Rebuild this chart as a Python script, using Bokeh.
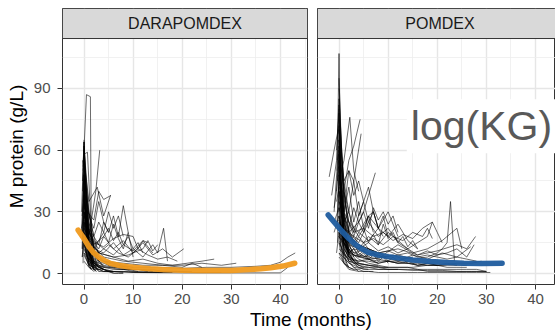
from bokeh.plotting import figure
from bokeh.layouts import row, column
from bokeh.models import Range1d, FixedTicker, BoxAnnotation, Label, Div
from bokeh.embed import file_html
from bokeh.resources import INLINE

# ---------------- data ----------------
PANELS = ["DARAPOMDEX", "POMDEX"]
X_TICKS = [0, 10, 20, 30, 40]
X_MINOR = [5, 15, 25, 35, 45]
Y_TICKS = [0, 30, 60, 90]
Y_MINOR = [15, 45, 75, 105]

DARA_TIME = [
    [-0.2, 0.5, 1.3, 1.5, 2.5],
    [-0.5, 0, 0.8, 1.8, 2.8],
    [-0.3, 0, 1, 2, 3, 4],
    [0, 0.7, 1.5, 2.5],
    [0, 1, 2.4, 3.2],
    [-0.4, 0, 1, 2.7, 4, 5.4],
    [0, 1, 2, 3, 4, 5],
    [-0.2, 0, 1, 2, 3, 4, 5, 6, 7, 8, 9],
    [0, 1, 2, 3, 4, 5, 6, 7, 8, 9, 10, 11, 12],
    [0, 2, 4, 6, 8, 10, 12, 14, 15, 16.2, 17],
    [0, 2, 4, 6, 8, 10, 12, 14, 16, 18, 20.3],
    [0, 3, 6, 9, 12, 15, 18, 21, 24, 26.5],
    [0, 4, 8, 12, 16, 20, 24, 28, 31],
    [0, 5, 10, 15, 20, 25, 30, 35, 38, 40, 41.5, 43],
    [0, 3, 10, 20, 30, 40, 41.5],
    [-0.3, 0, 1, 2],
    [0, 0.5, 1.5, 3],
    [0, 1, 2, 3, 4, 5, 6],
    [0, 1, 2, 4, 6, 8],
    [0, 1, 3, 5, 7, 9, 11, 13],
    [0, 1, 2, 3],
    [-0.5, 0, 1, 2, 3, 4],
    [0, 0.5, 1, 2],
    [0, 1, 2, 3, 4, 5, 6, 7, 8],
    [0, 1, 2, 4, 6, 9, 12, 15, 18],
    [0, 1, 2, 3, 5, 7, 9],
    [0, 1, 2],
    [0, 1, 2, 3, 4, 5],
    [-0.3, 0, 1, 2, 3],
    [0, 1, 2, 3, 4, 6, 8, 10, 12, 14],
    [0, 2, 3, 4, 5, 6, 7, 8],
    [0, 2, 4, 5, 6, 7, 8, 9, 10],
    [0, 1, 3, 5, 7, 9, 11, 13, 15, 17, 19],
    [0, 2, 4, 6, 8, 10, 12, 14],
    [0, 2, 3, 4, 5.5],
    [0, 3, 6, 9, 12, 13, 14, 15],
    [0, 2, 4, 6, 8, 10, 11, 12, 13],
    [0, 4, 8, 12, 16, 20, 22, 24],
    [-0.4, 0, 0.6, 1.2, 2],
    [-0.2, 0, 0.5, 1, 1.5, 2.5],
    [0, 0.4, 1, 1.6, 2.2],
    [-0.3, 0, 0.7, 1.4],
    [-0.5, 0, 0.5, 1, 2],
    [-0.2, 0, 0.4, 1, 1.5, 2],
    [0, 0.3, 1, 2, 3],
    [-0.4, 0, 0.6, 1.2, 2, 3],
    [0, 0.5, 1, 1.5, 2.5],
    [-0.3, 0, 0.5, 1, 2, 3, 4],
    [0, 0.5, 1, 2, 3, 4, 5, 6],
    [0, 0.5, 1, 2],
    [-0.3, 0, 0.5, 1, 1.5],
    [0, 0.5, 1, 2, 3, 5, 7, 9, 11],
    [-0.2, 0, 0.5, 1, 2, 3],
    [0, 1, 2, 3, 4, 5, 6, 8, 10, 12, 14, 16],
    [0, 1, 2, 4, 6, 8, 10, 12, 14, 16, 18, 20, 22],
    [0, 1, 2, 4, 6, 8, 10, 13, 16, 19, 22, 25, 28],
    [0, 0.5, 1, 2, 3, 4],
    [0, 0.4, 1, 1.8, 2.5],
    [-0.4, 0, 0.5, 1, 2],
    [0, 1, 2, 3, 4, 6, 8, 10],
]
DARA_MPROT = [
    [50, 87, 86, 10, 3],
    [30, 64, 20, 8, 4],
    [45, 62, 30, 12, 6, 3],
    [58, 59, 20, 5],
    [25, 18, 40, 60],
    [20, 55, 35, 42, 28, 38],
    [52, 28, 22, 35, 25, 20],
    [15, 48, 22, 18, 14, 25, 20, 28, 18, 33, 20],
    [35, 20, 15, 12, 18, 22, 16, 20, 14, 18, 12, 15, 10],
    [30, 12, 10, 15, 9, 12, 8, 14, 10, 22, 6],
    [28, 14, 18, 12, 16, 10, 15, 9, 12, 8, 12],
    [22, 10, 8, 6, 7, 5, 4, 5, 6, 7],
    [18, 8, 6, 5, 4, 4, 5, 4, 5],
    [15, 4, 3, 3, 2.5, 3, 3, 3.5, 4, 5.5, 8, 10],
    [10, 1, 0.5, 0.3, 0.3, 0.3, 3],
    [8, 35, 12, 3],
    [42, 25, 6, 1],
    [12, 6, 3, 2, 1, 1, 0.5],
    [25, 10, 5, 2, 1, 0.5],
    [38, 15, 6, 4, 3, 2, 2, 1],
    [48, 30, 18, 9],
    [22, 28, 14, 9, 6, 4],
    [60, 40, 15, 5],
    [6, 3, 2, 2, 1, 1, 0, 0, 0],
    [20, 8, 4, 2, 1, 1, 0.5, 0.5, 0.5],
    [30, 18, 10, 7, 5, 4, 3],
    [15, 5, 2],
    [10, 4, 6, 3, 2, 1],
    [55, 52, 25, 12, 8],
    [16, 7, 5, 4, 3, 3, 2, 2, 2, 1],
    [40, 18, 25, 20, 30, 22, 28, 18],
    [33, 12, 20, 15, 24, 17, 12, 20, 8],
    [24, 12, 10, 14, 10, 8, 12, 9, 7, 8, 6],
    [26, 16, 12, 9, 14, 11, 16, 10],
    [32, 26, 40, 36, 38],
    [20, 10, 8, 9, 12, 16, 11, 14],
    [35, 15, 13, 17, 19, 18, 12, 16, 15],
    [14, 6, 5, 4, 4, 3, 5, 3],
    [12, 40, 18, 6, 2],
    [5, 30, 22, 10, 4, 1],
    [65, 35, 12, 4, 1],
    [18, 46, 9, 2],
    [20, 50, 30, 10, 3],
    [35, 45, 28, 15, 6, 2],
    [62, 40, 12, 4, 2],
    [28, 38, 18, 9, 5, 3],
    [22, 14, 8, 4, 1],
    [40, 57, 35, 15, 8, 4, 2],
    [30, 20, 12, 6, 3, 2, 1, 1],
    [18, 10, 5, 2],
    [12, 25, 10, 4, 2],
    [45, 25, 12, 6, 4, 3, 2, 2, 1],
    [52, 64, 42, 20, 10, 5],
    [9, 4, 3, 2, 2, 1, 1, 1, 0.5, 0.5, 0.5, 0.5],
    [26, 10, 6, 4, 3, 3, 2, 2, 2, 1, 1, 1, 1],
    [14, 6, 4, 3, 2, 2, 1, 1, 1, 1, 0.5, 0.5, 0.5],
    [33, 18, 9, 5, 3, 2],
    [48, 22, 10, 5, 2],
    [8, 15, 8, 3, 1],
    [20, 12, 9, 7, 6, 5, 4, 3],
]

POM_TIME = [
    [-0.4, 0, 0.4, 1],
    [-2, -1, 0, 0.5, 1.5],
    [-1.5, -0.5, 0, 1, 2, 3],
    [0, 1, 2.2, 3, 4],
    [0, 1, 2, 3, 4.3],
    [-0.5, 0, 1, 2, 3, 4, 5],
    [0, 1, 2, 3, 4, 5, 6, 7],
    [-1, 0, 1, 2, 3, 4, 5, 6, 7, 8],
    [0, 1, 2, 3, 4, 5, 6, 7, 8, 9, 10],
    [0, 2, 4, 5, 6, 7, 8, 9, 10, 11, 12],
    [0, 1, 2, 3, 4, 5, 6, 7, 8],
    [0, 0.5, 1, 2, 3],
    [0, 1, 2, 3, 4, 6, 8, 10, 12, 14, 16],
    [0, 2, 4, 6, 8, 10, 12, 14, 16, 18, 19, 20, 21],
    [0, 3, 6, 9, 12, 15, 18, 20, 21, 22, 22.7, 23.5],
    [0, 3, 6, 9, 12, 15, 18, 21, 24, 25],
    [0, 4, 8, 12, 16, 20, 24, 26, 27.8],
    [0, 3, 6, 9, 12, 15, 18, 21, 24, 26.8],
    [0, 2, 4, 6, 8, 10, 12, 14],
    [0, 1, 2, 3, 4, 5, 6, 7.4],
    [0, 1, 2, 3, 4.5],
    [0, 2, 4, 6, 8, 10, 12, 14, 16, 18, 20, 22, 24, 26, 28, 30],
    [0, 2, 4, 6, 8, 10, 12, 14, 16, 18, 20, 22, 24, 26, 28, 30.8],
    [0, 3, 6, 9, 12, 15, 18, 21, 24, 27, 29],
    [0, 1, 2, 3, 4, 5, 6],
    [0, 1, 2, 3],
    [-0.5, 0, 1, 2, 3, 4],
    [0, 1, 2, 4, 6, 8, 10],
    [0, 1, 2, 3, 4, 5, 6, 7, 8, 9, 10, 11, 12, 13, 14],
    [0, 2, 4, 6, 8, 10, 12, 14, 16, 18, 20, 22, 24, 26, 28],
    [0, 1, 2, 3, 5, 7, 9, 11, 13, 15, 17, 19],
    [0, 1, 3, 5, 7, 9, 11, 13, 15, 17, 18, 19],
    [0, 1, 2],
    [0, 0.5, 1, 1.5],
    [-1, 0, 1, 2, 3, 4, 5, 6, 7, 8, 9, 10],
    [0, 1, 2, 3, 4, 5, 6, 7, 8, 9, 10, 11, 12, 13, 14, 15, 16],
    [0, 2, 4, 6, 8, 10, 12, 14, 16, 18, 20, 22, 24, 26],
    [0, 1, 2, 3, 4, 5, 6, 7],
    [0, 1, 2, 3, 4, 6, 8],
    [-1, 0, 1, 2],
    [0, 2, 4, 6, 8, 10, 12, 14, 16, 18, 20, 22, 24, 26, 27.5],
    [0, 3, 6, 9, 12, 15, 18, 21, 24, 27, 30],
    [0, 2, 4, 6, 8, 10, 12],
    [0, 1, 2, 3, 4, 5, 6, 7, 8, 9],
    [-0.3, 0, 0.5, 1, 2],
    [0, 0.5, 1, 2, 3, 4],
    [-0.3, 0, 0.5, 1, 2],
    [-0.5, 0, 0.5, 1, 1.5, 2.5],
    [0, 0.3, 1, 2, 3],
    [-0.4, 0, 0.6, 1.2, 2],
    [0, 0.5, 1, 2, 3, 4, 5],
    [-0.2, 0, 0.5, 1, 2, 3, 4, 6, 8],
    [0, 0.5, 1, 2, 3, 4, 6, 8, 10, 12],
    [-0.3, 0, 0.5, 1, 1.5],
    [0, 0.5, 1, 2, 3],
    [0, 1, 2, 3, 4, 6, 8, 10, 12, 14, 16, 18, 20],
    [0, 1, 2, 4, 6, 8, 10, 12, 14, 16, 18, 20, 22, 24, 26, 28, 30],
    [0, 1, 2, 4, 6, 8, 10, 12, 14, 16, 18, 20, 22, 24, 26],
    [-0.2, 0, 0.4, 1, 2, 3],
    [0, 0.5, 1, 2, 3, 4],
    [-1, -0.5, 0, 0.5, 1, 2],
    [0, 1, 2, 3, 5, 7, 9, 11, 13, 15],
    [0, 1, 2, 4, 6, 8, 10, 12, 14, 16, 18, 20, 22, 24],
    [-0.5, 0, 0.5, 1, 2],
]
POM_MPROT = [
    [50, 107, 45, 15],
    [47, 60, 72, 35, 20],
    [38, 55, 85, 40, 25, 18],
    [45, 55, 76, 50, 40],
    [30, 40, 55, 62, 75],
    [60, 78, 45, 50, 38, 45, 35],
    [52, 30, 42, 25, 35, 22, 28, 20],
    [30, 65, 40, 30, 45, 28, 35, 25, 30, 22],
    [40, 25, 30, 20, 28, 35, 42, 30, 22, 28, 18],
    [35, 20, 25, 30, 22, 32, 26, 30, 24, 28, 20],
    [70, 45, 30, 22, 18, 15, 12, 10, 8],
    [90, 60, 30, 15, 8],
    [28, 18, 22, 15, 20, 16, 22, 18, 24, 16, 12],
    [25, 15, 12, 18, 14, 20, 16, 12, 15, 18, 25, 20, 15],
    [22, 12, 10, 8, 9, 7, 8, 10, 12, 15, 35, 6],
    [20, 10, 12, 9, 14, 10, 12, 16, 22, 12],
    [24, 14, 10, 12, 9, 11, 14, 12, 18],
    [18, 9, 7, 8, 6, 9, 7, 10, 8, 13],
    [60, 20, 15, 25, 18, 22, 15, 12],
    [50, 28, 22, 32, 25, 30, 38, 49],
    [40, 30, 50, 45, 68],
    [15, 6, 5, 4, 4, 3, 3, 3, 2, 2, 2, 2, 2, 2, 2, 1],
    [8, 2, 1, 1, 0.5, 0.5, 0.5, 0.5, 0.5, 0.5, 0.5, 0.5, 0.5, 0.5, 0.5, 0.5],
    [12, 5, 4, 3, 3, 3, 4, 4, 5, 5, 6],
    [30, 12, 8, 5, 3, 2, 2],
    [55, 25, 10, 6],
    [35, 42, 20, 12, 8, 5],
    [25, 12, 8, 5, 4, 3, 3],
    [20, 14, 10, 12, 9, 11, 8, 10, 7, 9, 6, 8, 6, 7, 5],
    [32, 18, 14, 12, 10, 11, 9, 10, 8, 9, 8, 7, 8, 7, 6],
    [45, 30, 25, 20, 22, 18, 20, 16, 19, 17, 22, 25],
    [38, 22, 18, 15, 17, 14, 18, 16, 20, 18, 22, 17],
    [75, 40, 20],
    [95, 60, 30, 15],
    [20, 28, 15, 10, 12, 8, 10, 7, 9, 6, 8, 5],
    [24, 16, 20, 13, 18, 22, 15, 19, 14, 24, 17, 20, 15, 18, 13, 16, 12],
    [18, 8, 6, 7, 5, 6, 5, 6, 4, 5, 4, 5, 4, 4],
    [10, 5, 3, 2, 2, 1, 1, 1],
    [65, 30, 20, 15, 10, 7, 5],
    [25, 32, 18, 10],
    [26, 14, 12, 15, 11, 13, 10, 12, 9, 11, 9, 10, 12, 8, 14],
    [10, 3, 2, 2, 2, 1.5, 1.5, 1.5, 1, 1, 1],
    [48, 25, 20, 28, 22, 30, 18],
    [36, 20, 15, 18, 25, 20, 28, 30, 22, 18],
    [15, 58, 20, 8, 3],
    [70, 35, 15, 6, 3, 1],
    [55, 70, 40, 20, 10],
    [40, 62, 35, 22, 12, 6],
    [80, 50, 25, 12, 6],
    [25, 48, 30, 15, 8],
    [35, 22, 15, 9, 6, 4, 3],
    [30, 52, 28, 18, 12, 9, 7, 5, 4],
    [20, 12, 8, 5, 4, 3, 3, 2, 2, 2],
    [45, 60, 30, 12, 5],
    [15, 9, 5, 3, 2],
    [40, 20, 14, 10, 9, 8, 7, 6, 6, 5, 5, 4, 4],
    [22, 10, 6, 4, 3, 3, 2, 2, 2, 2, 1, 1, 1, 1, 1, 1, 1],
    [28, 15, 10, 8, 7, 6, 6, 5, 5, 4, 4, 4, 3, 3, 3],
    [68, 82, 45, 20, 10, 6],
    [58, 32, 18, 10, 6, 4],
    [32, 40, 55, 30, 18, 9],
    [26, 15, 11, 9, 8, 10, 8, 9, 7, 8],
    [16, 9, 7, 6, 6, 5, 6, 5, 5, 4, 5, 4, 4, 4],
    [10, 20, 12, 6, 3],
]

DARA_FIT_T = [-1.2, 0, 1, 2, 3, 4, 5.4, 7, 9, 11, 13.5, 16, 20, 23.6, 27, 30, 33.7, 36, 38, 40.5, 42.9]
DARA_FIT_Y = [21.1, 17.0, 13.0, 10.0, 8.0, 6.5, 4.9, 4.0, 3.3, 2.8, 2.3, 2.0, 1.6, 1.45, 1.4, 1.5, 1.9, 2.3, 2.8, 3.6, 5.0]
POM_FIT_T = [-2.2, -1, 0.5, 2, 3.2, 4.5, 5.9, 8, 10, 11.9, 15, 18.7, 22, 25.4, 29, 33.2]
POM_FIT_Y = [28.5, 25.0, 20.8, 17.0, 14.4, 12.2, 10.3, 9.0, 8.2, 7.6, 6.6, 5.8, 5.3, 5.0, 4.9, 5.0]

FIT_COLORS = ["#F09A1E", "#1F5C9E"]
NOTE_TEXT = "log(KG)"

# ---------------- layout constants ----------------
FONT = "Liberation Sans"
X_LO = -4.38
X_HI_1 = 45.5
X_HI_2 = 44.07
Y_LO, Y_TOP = -5.35, 128.9
STRIP_Y = 114.3
FRAME_H = 276


def style(p):
    p.outline_line_color = "#333333"
    p.outline_line_width = 1
    p.background_fill_color = "white"
    p.border_fill_color = "white"
    xt = FixedTicker(ticks=X_TICKS, minor_ticks=X_MINOR)
    yt = FixedTicker(ticks=Y_TICKS, minor_ticks=Y_MINOR)
    for ax in p.xaxis:
        ax.ticker = xt
    p.xgrid.ticker = xt
    for ax in p.yaxis:
        ax.ticker = yt
    p.ygrid.ticker = yt
    for g in (p.xgrid, p.ygrid):
        g.grid_line_color = "#e6e6e6"
        g.grid_line_width = 1.4
        g.minor_grid_line_color = "#ededed"
        g.minor_grid_line_width = 0.8
    for ax in list(p.xaxis) + list(p.yaxis):
        ax.axis_line_color = None
        ax.major_tick_line_color = "#333333"
        ax.major_tick_in = 0
        ax.major_tick_out = 5
        ax.minor_tick_line_color = None
        ax.major_label_text_font = FONT
        ax.major_label_text_font_size = "15px"
        ax.major_label_text_color = "#4d4d4d"
        ax.axis_label_text_font = FONT
        ax.axis_label_text_font_size = "19px"
        ax.axis_label_text_font_style = "normal"
        ax.axis_label_text_color = "black"
    for ax in p.xaxis:
        ax.major_label_standoff = 4
    for ax in p.yaxis:
        ax.major_label_standoff = 7


def panel(title, times, vals, fit_t, fit_y, fit_color, first):
    kw = dict(
        frame_height=FRAME_H, y_range=Range1d(Y_LO, Y_TOP),
        output_backend="svg", toolbar_location=None,
        min_border_top=8, min_border_bottom=25,
    )
    if first:
        p = figure(frame_width=245, x_range=Range1d(X_LO, X_HI_1),
                   min_border_left=62, min_border_right=5, **kw)
        p.yaxis.axis_label = "M protein (g/L)"
        p.yaxis.axis_label_standoff = 4
    else:
        p = figure(frame_width=238, x_range=Range1d(X_LO, X_HI_2),
                   min_border_left=5, min_border_right=0,
                   y_axis_location=None, **kw)
    style(p)
    p.multi_line(xs=times, ys=vals, line_color="black", line_alpha=0.58, line_width=1)
    p.line(fit_t, fit_y, line_color=fit_color, line_width=5.5, line_alpha=0.95,
           line_cap="round", line_join="round")
    p.add_layout(BoxAnnotation(bottom=STRIP_Y, fill_color="#d9d9d9", fill_alpha=1,
                               line_color="#333333", line_width=1, line_alpha=1))
    p.add_layout(Label(x=(X_LO + X_HI_1) / 2, y=(STRIP_Y + Y_TOP) / 2, text=title,
                       text_align="center", text_baseline="middle",
                       text_font=FONT, text_font_size="16px", text_color="#1a1a1a"))
    return p


p1 = panel(PANELS[0], DARA_TIME, DARA_MPROT, DARA_FIT_T, DARA_FIT_Y, FIT_COLORS[0], True)
p2 = panel(PANELS[1], POM_TIME, POM_MPROT, POM_FIT_T, POM_FIT_Y, FIT_COLORS[1], False)

p2.add_layout(Label(x=13.8, y=71.6, text=NOTE_TEXT, text_align="left",
                    text_baseline="alphabetic", text_font=FONT,
                    text_font_size="41px", text_color="#595959",
                    background_fill_color="white", background_fill_alpha=1,
                    padding=4))

xlabel = Div(text="Time (months)", width=482, height=22, margin=(0, 0, 0, 70),
             styles={"font-size": "19px", "font-family": FONT, "color": "black",
                     "text-align": "center", "line-height": "22px", "width": "482px"})

layout = column(row(p1, p2, spacing=0), xlabel, spacing=0)

open("out.html", "w").write(file_html(layout, INLINE))
